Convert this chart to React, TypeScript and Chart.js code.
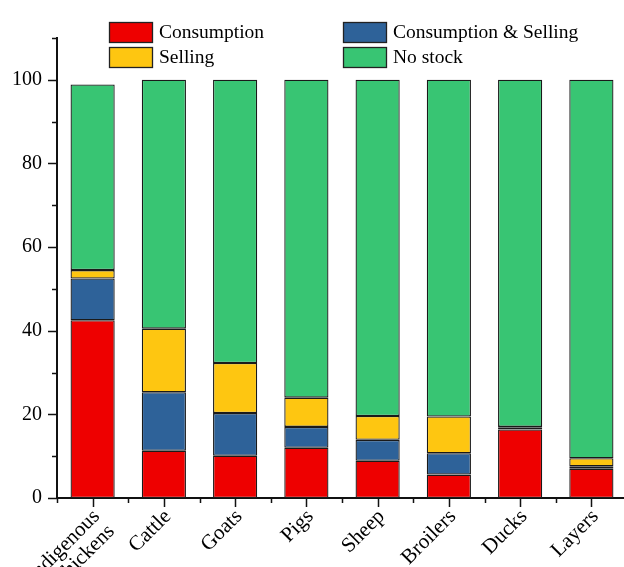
import React, { useEffect, useRef } from "react";
import { Chart, registerables } from "chart.js";

Chart.register(...registerables);

const categories: (string | string[])[] = [
  ["Indigenous", "chickens"],
  "Cattle",
  "Goats",
  "Pigs",
  "Sheep",
  "Broilers",
  "Ducks",
  "Layers",
];

const consumption = [42.5, 11.3, 10.1, 12.0, 8.9, 5.6, 16.4, 7.0];
const consumptionSelling = [10.0, 14.0, 10.2, 5.0, 5.0, 5.1, 0.4, 0.6];
const selling = [2.0, 15.2, 12.0, 7.0, 5.7, 8.8, 0.2, 1.9];
const noStock = [44.4, 59.5, 67.7, 76.0, 80.4, 80.5, 83.0, 90.5];

const seriesNames = ["Consumption", "Consumption & Selling", "Selling", "No stock"];
const seriesColors = ["#EE0000", "#2E6299", "#FEC611", "#38C573"];

const yTickValues = [0, 20, 40, 60, 80, 100];
const yMinorValues = [10, 30, 50, 70, 90, 110];

const FONT = "'Liberation Serif', 'Times New Roman', serif";

const legendPlugin = {
  id: "customLegend",
  afterDraw(chart: any) {
    const ctx = chart.ctx;
    const ds = chart.data.datasets;
    const slots = [
      { i: 0, x: 109, y: 22 },
      { i: 1, x: 343, y: 22 },
      { i: 2, x: 109, y: 47 },
      { i: 3, x: 343, y: 47 },
    ];
    ctx.save();
    ctx.font = `19.5px ${FONT}`;
    ctx.textBaseline = "middle";
    ctx.textAlign = "left";
    for (const s of slots) {
      const d = ds[s.i];
      ctx.fillStyle = d.backgroundColor;
      ctx.fillRect(s.x, s.y, 44, 21);
      ctx.strokeStyle = "#222";
      ctx.lineWidth = 1.3;
      ctx.strokeRect(s.x + 0.5, s.y + 0.5, 43, 20);
      ctx.fillStyle = "#000";
      ctx.fillText(d.label, s.x + 50, s.y + 11);
    }
    ctx.restore();
  },
};

const ticksPlugin = {
  id: "axisTicks",
  afterDraw(chart: any) {
    const ctx = chart.ctx;
    const y = chart.scales.y;
    const x = chart.scales.x;
    const left = chart.chartArea.left;
    const bottom = chart.chartArea.bottom;
    ctx.save();
    ctx.strokeStyle = "#111";
    ctx.lineWidth = 1.5;
    ctx.beginPath();
    for (const v of yTickValues) {
      const py = Math.round(y.getPixelForValue(v)) + 0.5;
      ctx.moveTo(left - 9, py);
      ctx.lineTo(left, py);
    }
    for (const v of yMinorValues) {
      const py = Math.round(y.getPixelForValue(v)) + 0.5;
      ctx.moveTo(left - 5, py);
      ctx.lineTo(left, py);
    }
    const n = categories.length;
    for (let i = 0; i < n; i++) {
      const px = Math.round(x.getPixelForValue(i)) + 0.5;
      ctx.moveTo(px, bottom);
      ctx.lineTo(px, bottom + 9);
    }
    for (let i = 0; i <= n; i++) {
      const px = Math.round(x.getPixelForValue(i - 0.5)) + 0.5;
      ctx.moveTo(px, bottom);
      ctx.lineTo(px, bottom + 5);
    }
    ctx.stroke();
    ctx.restore();
  },
};

export default function App() {
  const ref = useRef<HTMLCanvasElement | null>(null);

  useEffect(() => {
    document.body.style.margin = "0";
    if (!ref.current) return;
    const mk = (label: string, data: number[], color: string) => ({
      label,
      data,
      backgroundColor: color,
      borderColor: "#1a1a1a",
      borderWidth: 1.3,
      borderSkipped: false as const,
      barPercentage: 0.62,
      categoryPercentage: 1,
    });
    const chart = new Chart(ref.current, {
      type: "bar",
      data: {
        labels: categories,
        datasets: [
          mk(seriesNames[0], consumption, seriesColors[0]),
          mk(seriesNames[1], consumptionSelling, seriesColors[1]),
          mk(seriesNames[2], selling, seriesColors[2]),
          mk(seriesNames[3], noStock, seriesColors[3]),
        ],
      },
      options: {
        responsive: false,
        animation: false,
        devicePixelRatio: 1,
        layout: { padding: { left: 0, right: 13, top: 38, bottom: 0 } },
        plugins: {
          legend: { display: false },
          tooltip: { enabled: false },
        },
        scales: {
          x: {
            stacked: true,
            grid: { display: false, drawTicks: false },
            border: { display: true, color: "#111", width: 2 },
            ticks: {
              color: "#000",
              font: { family: FONT, size: 21, lineHeight: 1.0 },
              maxRotation: 45,
              minRotation: 45,
              autoSkip: false,
              padding: 8,
              labelOffset: 4,
            },
            afterFit: (s: any) => {
              s.height = 69;
            },
          },
          y: {
            stacked: true,
            min: 0,
            max: 110,
            grid: { display: false, drawTicks: false },
            border: { display: true, color: "#111", width: 2 },
            ticks: {
              stepSize: 20,
              includeBounds: false,
              color: "#000",
              font: { family: FONT, size: 20 },
              padding: 15,
            },
            afterFit: (s: any) => {
              s.width = 57;
            },
          },
        },
      },
      plugins: [legendPlugin, ticksPlugin],
    });
    return () => chart.destroy();
  }, []);

  return (
    <div
      style={{
        position: "absolute",
        left: 0,
        top: 0,
        width: 624,
        height: 567,
        overflow: "hidden",
        background: "#fff",
      }}
    >
      <canvas ref={ref} width={640} height={567} style={{ width: 640, height: 567, display: "block" }} />
    </div>
  );
}
